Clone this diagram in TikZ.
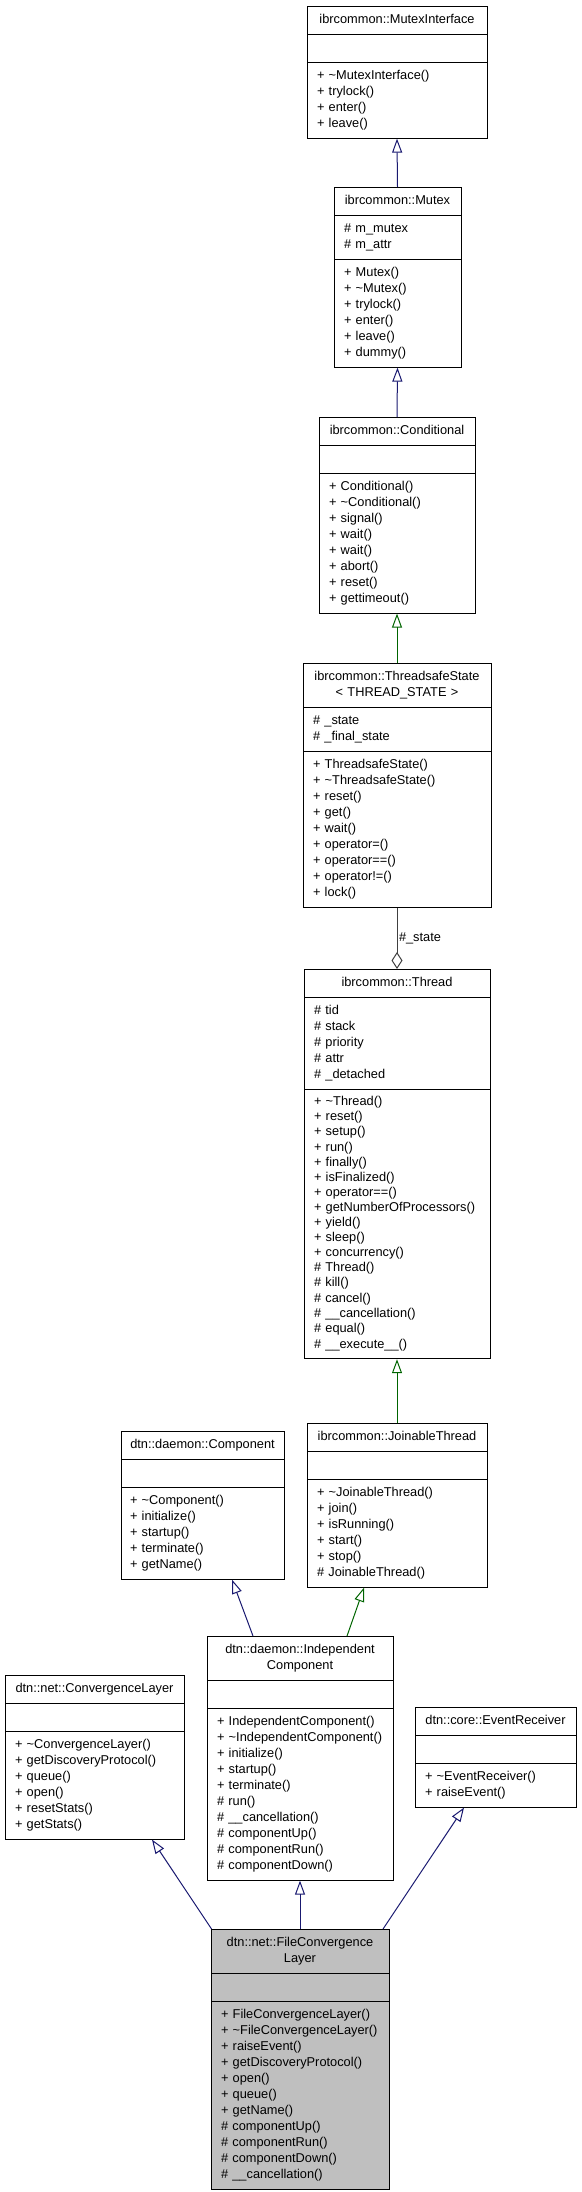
\documentclass[tikz,border=0pt]{standalone}
\usepackage{fontspec}
\setmainfont{Liberation Sans}
\usepackage{tikz}
\usetikzlibrary{arrows.meta,shapes.multipart}
\definecolor{pubblue}{RGB}{25,25,112}
\definecolor{protgreen}{RGB}{0,100,0}
\definecolor{usegrey}{RGB}{64,64,64}
\definecolor{focusgrey}{RGB}{191,191,191}
\newcommand{\clsname}[1]{\strut\hspace*{\fill}#1\hspace*{\fill}\strut}
\newcommand{\clsbreak}{\hspace*{\fill}\strut\\\strut\hspace*{\fill}}
\newcommand{\members}[2][16]{\fontsize{12.8}{#1}\selectfont\strut#2\strut}

\begin{document}
\begin{tikzpicture}[
  x=1pt, y=-1pt,
  umlclass/.style={draw,line width=0.9pt,rectangle split,rectangle split parts=3,
                   inner xsep=10pt,inner ysep=5.5pt,align=left,anchor=north,
                   font=\fontsize{12.8}{16}\selectfont},
  focus/.style={umlclass,fill=focusgrey},
  public/.style={-{Triangle[open,length=14pt,width=10pt]},line width=1pt,color=pubblue},
  protected/.style={-{Triangle[open,length=14pt,width=10pt]},line width=1pt,color=protgreen},
  usage/.style={-{Diamond[open,length=17pt,width=11pt]},line width=1pt,color=usegrey}
]
\useasboundingbox (0,0) rectangle (581,2192);

\node[umlclass,text width=160pt] (mutexif) at (397,6)
  {\clsname{ibrcommon::MutexInterface}
   \nodepart{two}\members{}
   \nodepart{three}\members{+~\textasciitilde MutexInterface()\\+~trylock()\\+~enter()\\+~leave()}};
\node[umlclass,text width=107pt] (mutex) at (397.5,187)
  {\clsname{ibrcommon::Mutex}
   \nodepart{two}\members{\#~m\_mutex\\\#~m\_attr}
   \nodepart{three}\members{+~Mutex()\\+~\textasciitilde Mutex()\\+~trylock()\\+~enter()\\+~leave()\\+~dummy()}};
\node[umlclass,text width=136pt] (conditional) at (397,417)
  {\clsname{ibrcommon::Conditional}
   \nodepart{two}\members{}
   \nodepart{three}\members{+~Conditional()\\+~\textasciitilde Conditional()\\+~signal()\\+~wait()\\+~wait()\\+~abort()\\+~reset()\\+~gettimeout()}};
\node[umlclass,text width=168pt] (tsstate) at (397,663)
  {\clsname{ibrcommon::ThreadsafeState\clsbreak< THREAD\_STATE >}
   \nodepart{two}\members{\#~\_state\\\#~\_final\_state}
   \nodepart{three}\members{+~ThreadsafeState()\\+~\textasciitilde ThreadsafeState()\\+~reset()\\+~get()\\+~wait()\\+~operator=()\\+~operator==()\\+~operator!=()\\+~lock()}};
\node[umlclass,text width=166pt] (thread) at (397,969)
  {\clsname{ibrcommon::Thread}
   \nodepart{two}\members{\#~tid\\\#~stack\\\#~priority\\\#~attr\\\#~\_detached}
   \nodepart{three}\members[15.1]{+~\textasciitilde Thread()\\+~reset()\\+~setup()\\+~run()\\+~finally()\\+~isFinalized()\\+~operator==()\\+~getNumberOfProcessors()\\+~yield()\\+~sleep()\\+~concurrency()\\\#~Thread()\\\#~kill()\\\#~cancel()\\\#~\_\_cancellation()\\\#~equal()\\\#~\_\_execute\_\_()}};
\node[umlclass,text width=160pt] (joinable) at (397,1423)
  {\clsname{ibrcommon::JoinableThread}
   \nodepart{two}\members{}
   \nodepart{three}\members{+~\textasciitilde JoinableThread()\\+~join()\\+~isRunning()\\+~start()\\+~stop()\\\#~JoinableThread()}};
\node[umlclass,text width=145pt,inner xsep=9pt] (component) at (202.5,1431)
  {\clsname{dtn::daemon::Component}
   \nodepart{two}\members{}
   \nodepart{three}\members{+~\textasciitilde Component()\\+~initialize()\\+~startup()\\+~terminate()\\+~getName()}};
\node[umlclass,text width=166pt] (indcomp) at (300,1636)
  {\clsname{dtn::daemon::Independent\clsbreak Component}
   \nodepart{two}\members{}
   \nodepart{three}\members{+~IndependentComponent()\\+~\textasciitilde IndependentComponent()\\+~initialize()\\+~startup()\\+~terminate()\\\#~run()\\\#~\_\_cancellation()\\\#~componentUp()\\\#~componentRun()\\\#~componentDown()}};
\node[umlclass,text width=159pt] (convlayer) at (94.5,1675)
  {\clsname{dtn::net::ConvergenceLayer}
   \nodepart{two}\members{}
   \nodepart{three}\members{+~\textasciitilde ConvergenceLayer()\\+~getDiscoveryProtocol()\\+~queue()\\+~open()\\+~resetStats()\\+~getStats()}};
\node[umlclass,text width=141pt] (evreceiver) at (495.5,1707)
  {\clsname{dtn::core::EventReceiver}
   \nodepart{two}\members{}
   \nodepart{three}\members{+~\textasciitilde EventReceiver()\\+~raiseEvent()}};
\node[focus,text width=158pt] (fileconv) at (300,1929)
  {\clsname{dtn::net::FileConvergence\clsbreak Layer}
   \nodepart{two}\members{}
   \nodepart{three}\members{+~FileConvergenceLayer()\\+~\textasciitilde FileConvergenceLayer()\\+~raiseEvent()\\+~getDiscoveryProtocol()\\+~open()\\+~queue()\\+~getName()\\\#~componentUp()\\\#~componentRun()\\\#~componentDown()\\\#~\_\_cancellation()}};

\draw[public] (mutex.north) -- (mutexif.south);
\draw[public] (conditional.north) -- (mutex.south);
\draw[protected] (tsstate.north) -- (conditional.south);
\draw[usage] (tsstate.south) -- node[right,inner sep=1.5pt,text=black,font=\fontsize{12.8}{16}\selectfont]{\#\_state} (thread.north);
\draw[protected] (joinable.north) -- (thread.south);
\draw[public] ([xshift=-47pt]indcomp.north) -- ([xshift=29.5pt]component.south);
\draw[protected] ([xshift=47pt]indcomp.north) -- ([xshift=-33pt]joinable.south);
\draw[public] ([xshift=1pt]fileconv.north west) -- ([xshift=57.5pt]convlayer.south);
\draw[public] (fileconv.north) -- (indcomp.south);
\draw[public] ([xshift=83pt]fileconv.north) -- ([xshift=-31.5pt]evreceiver.south);
\end{tikzpicture}
\end{document}
